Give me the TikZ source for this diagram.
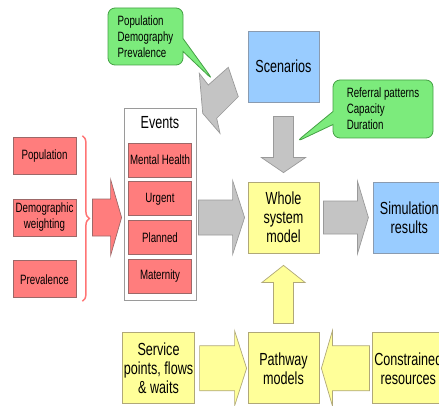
\documentclass[tikz,border=0pt]{standalone}
\usepackage{fontspec}
\setmainfont[FakeStretch=0.72]{Liberation Sans}
\usetikzlibrary{positioning, calc, shapes.callouts, decorations.pathreplacing}
\usepackage{xcolor}
\definecolor{wsred}{HTML}{FF7D7D}
\definecolor{wsredline}{HTML}{9C6868}
\definecolor{wsblue}{HTML}{99CCFF}
\definecolor{wsblueline}{HTML}{8A9BB0}
\definecolor{wsyellow}{HTML}{FFFF99}
\definecolor{wsyellowline}{HTML}{B0A878}
\definecolor{wsgreen}{HTML}{7CEB7C}
\definecolor{wsgreenline}{HTML}{44A044}
\definecolor{wsgrey}{HTML}{C4C4C4}
\definecolor{wsgreyline}{HTML}{9A9A9A}
\definecolor{wsbrace}{HTML}{FF7474}
\newcommand{\smallfnt}{\fontsize{13.5}{16}\selectfont}
\newcommand{\bigfnt}{\fontsize{17.5}{19}\selectfont}

\begin{document}
\begin{tikzpicture}[x=1pt, y=1pt, text=black,
    inbox/.style={rectangle, draw=wsredline, fill=wsred, line width=0.8pt,
                  minimum width=63pt, minimum height=37pt, inner sep=1pt,
                  align=center, font=\smallfnt},
    evbox/.style={inbox, minimum height=34pt},
    bigbox/.style={rectangle, draw=#1line, fill=#1, line width=0.8pt,
                   minimum width=71pt, minimum height=71pt, inner sep=1pt,
                   align=center, font=\bigfnt},
    note/.style={rectangle callout, rounded corners=7pt, draw=wsgreenline, fill=wsgreen,
                 line width=0.8pt, align=left, font=\smallfnt, inner sep=2pt,
                 callout pointer width=13pt},
    ba shaft/.store in=\bashaft, ba wing/.store in=\bawing, ba head/.store in=\bahead,
    blockarrow/.style={draw=#1line, fill=#1, line width=0.7pt,
      to path={let \p1=(\tikztostart), \p2=(\tikztotarget),
                   \n1={atan2(\y2-\y1,\x2-\x1)}, \n2={veclen(\x2-\x1,\y2-\y1)} in
        ($(\p1)+(\n1+90:\bashaft)$) -- ($(\p1)+(\n1:\n2-\bahead)+(\n1+90:\bashaft)$)
        -- ($(\p1)+(\n1:\n2-\bahead)+(\n1+90:\bawing)$) -- (\p2)
        -- ($(\p1)+(\n1:\n2-\bahead)+(\n1-90:\bawing)$)
        -- ($(\p1)+(\n1:\n2-\bahead)+(\n1-90:\bashaft)$)
        -- ($(\p1)+(\n1-90:\bashaft)$) -- cycle}}
  ]
    \useasboundingbox (0,0) rectangle (439,405);

    % main column
    \node[bigbox=wsyellow] (whole) at (283.5,187.5) {Whole\\system\\model};
    \node[bigbox=wsblue, above=79pt of whole] (scen) {Scenarios};
    \node[bigbox=wsblue, right=54pt of whole] (sim) {Simulation\\results};
    \node[bigbox=wsyellow, below=79pt of whole] (path) {Pathway\\models};
    \node[bigbox=wsyellow, left=53pt of path] (serv) {Service\\points, flows\\\& waits};
    \node[bigbox=wsyellow, right=53pt of path] (cons) {Constrained\\resources};

    % events
    \node[rectangle, draw=wsgreyline, fill=white, line width=0.8pt,
          minimum width=72pt, minimum height=192pt] (events) at (160,201) {};
    \node[font=\bigfnt] (evtitle) at ([yshift=-15pt]events.north) {Events};
    \node[evbox, below=35pt of events.north] (mental) {Mental Health};
    \node[evbox, below=4pt of mental] (urgent) {Urgent};
    \node[evbox, below=4pt of urgent] (planned) {Planned};
    \node[evbox, below=4pt of planned] (maternity) {Maternity};

    % inputs
    \node[inbox] (demo) at (44.5,187.5) {Demographic\\weighting};
    \node[inbox, above=24pt of demo] (pop) {Population};
    \node[inbox, below=24pt of demo] (prev) {Prevalence};
    \draw[wsbrace, line width=1.5pt, decorate, decoration={brace, amplitude=7pt}]
      ([xshift=6pt, yshift=1pt]pop.north east) -- ([xshift=6pt, yshift=-3pt]prev.south east);
    \coordinate (brtip) at ([xshift=13pt]demo.east);

    % callouts
    \node[note, minimum width=75pt, minimum height=57pt,
          callout absolute pointer={(213,325)}] (popnote) at (145.5,368.5)
          {Population\\Demography\\Prevalence};
    \node[note, minimum width=100pt, minimum height=58pt,
          callout absolute pointer={(296,263)}] (refnote) at (383,296)
          {Referral patterns\\Capacity\\Duration};

    \draw[fill=wsgrey, draw=wsgreyline, line width=0.7pt]
      (202.7,291.7) -- (199.3,331.7) -- (208.3,320) -- (228.3,337.7)
      -- (238.3,308.3) -- (216.7,286.7) -- (220,271.7) -- cycle;

    \draw[blockarrow=wsred, ba shaft=18.5pt, ba wing=38pt, ba head=11pt]
      ([xshift=3pt]brtip) to ([xshift=-2pt]events.west |- brtip);
    \draw[blockarrow=wsgrey, ba shaft=17.5pt, ba wing=37pt, ba head=12pt]
      ([xshift=2pt]events.east |- whole) to ([xshift=-3pt]whole.west);
    \draw[blockarrow=wsgrey, ba shaft=16.5pt, ba wing=36.5pt, ba head=11pt]
      ([xshift=4pt]whole.east) to ([xshift=-5pt]sim.west);
    \draw[blockarrow=wsgrey, ba shaft=10pt, ba wing=22pt, ba head=15pt]
      ([yshift=-14pt]scen.south) to ([yshift=9pt]whole.north);
    \draw[blockarrow=wsyellow, ba shaft=10pt, ba wing=21.5pt, ba head=17pt]
      ([yshift=9pt]path.north) to ([yshift=-12pt]whole.south);
    \draw[blockarrow=wsyellow, ba shaft=22.5pt, ba wing=37.5pt, ba head=12pt]
      ([xshift=5pt]serv.east) to ([xshift=-1pt]path.west);
    \draw[blockarrow=wsyellow, ba shaft=22.5pt, ba wing=37.5pt, ba head=11pt]
      ([xshift=-3pt]cons.west) to ([xshift=2pt]path.east);
  \end{tikzpicture}
\end{document}
